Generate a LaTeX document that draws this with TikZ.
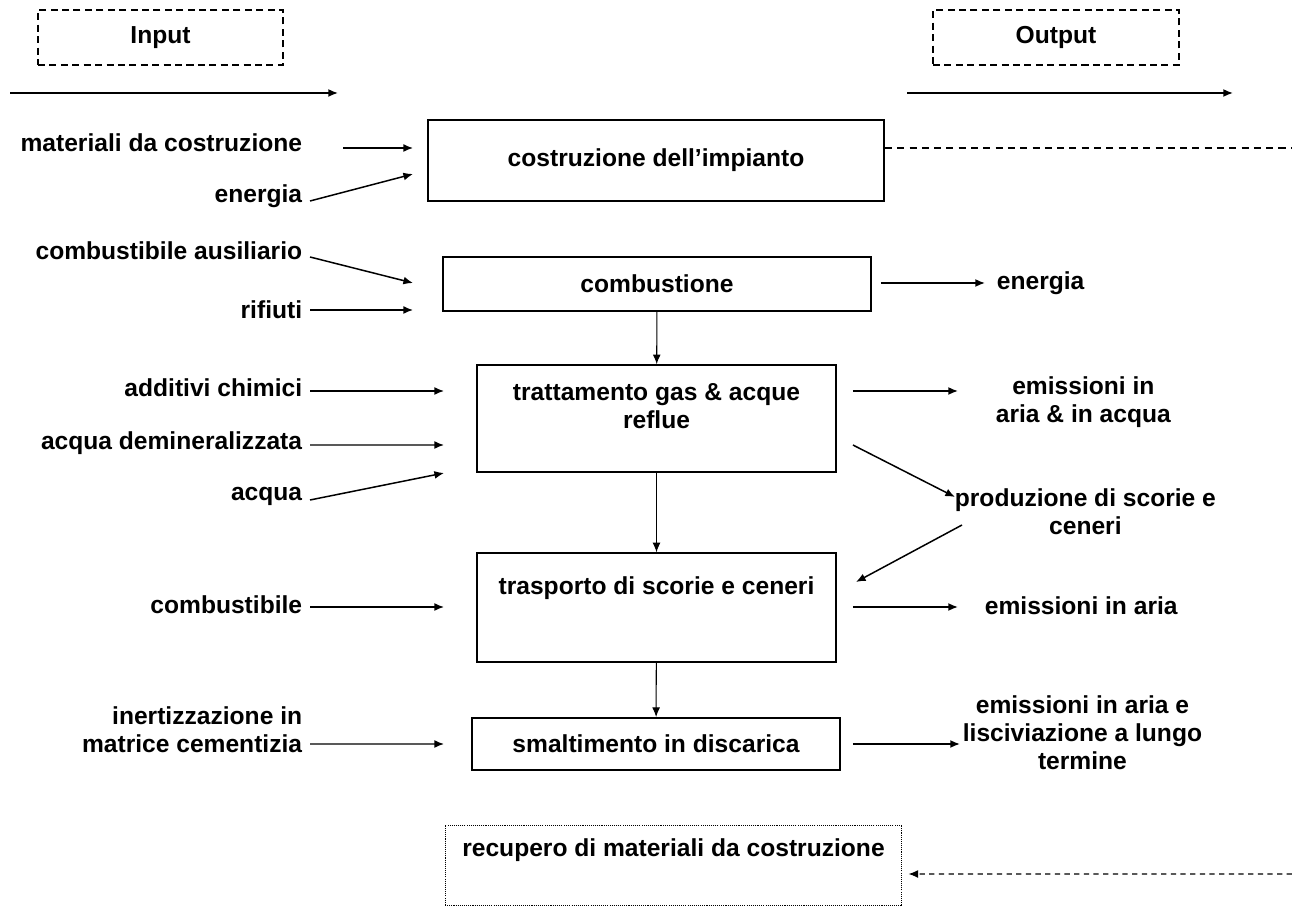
\documentclass[tikz,border=0pt]{standalone}
\usepackage{fontspec}
\setmainfont{Liberation Sans}
\usepackage{tikz}
\usetikzlibrary{arrows.meta}

\newcommand{\labfont}{\fontsize{14}{16}\selectfont\bfseries}
\tikzset{
  proc/.style={draw, rectangle, line width=1.1pt, inner sep=0pt, font=\labfont},
  lab/.style={inner sep=2pt, font=\labfont},
  flow/.style={->, >={Latex[length=5.5pt,width=4.5pt]}, line width=0.85pt},
}

\begin{document}
\begin{tikzpicture}[x=0.02cm, y=-0.02cm]
	\useasboundingbox (0,0) rectangle (1292,908);
	% titoli
	\node[proc, line width=0.8pt, dash pattern=on 4pt off 2.5pt, minimum width=4.9cm, minimum height=1.1cm] (IN) at (160.5,37.5) {Input};
	\node[proc, line width=0.8pt, dash pattern=on 4pt off 2.5pt, minimum width=4.92cm, minimum height=1.1cm] (OUT) at (1056,37.5) {Output};
	\coordinate (IN1) at (10,93);
	\coordinate (IN2) at (338,93);
	\coordinate (OUT1) at (907,93);
	\coordinate (OUT2) at (1233,93);
	\draw[flow] (IN1) -- (IN2);
	\draw[flow] (OUT1) -- (OUT2);

	% fasi
	\node[proc, minimum width=9.12cm, minimum height=1.62cm] (IMP) at (656,160.5)
	{costruzione dell’impianto};
	\node[proc, minimum width=8.56cm, minimum height=1.08cm] (COMB) at (657,284)
	{combustione};
	\node[proc, minimum width=7.18cm, text height=36.3pt, text depth=24.4pt, align=center] (TRAT) at (656.5,418.5)
	{trattamento gas \& acque\\reflue};
	\node[proc, minimum width=7.18cm, text height=23.2pt, text depth=38.5pt] (TRAS) at (656.5,607.5)
	{trasporto di scorie e ceneri};
	\node[proc, minimum width=7.36cm, minimum height=1.04cm] (DISC) at (656,744)
	{smaltimento in discarica};
	\node[proc, line width=0.6pt, dash pattern=on 0.6pt off 0.6pt, minimum width=9.14cm, text height=17.6pt, text depth=28.3pt] (REC) at (673.5,865.5)
	{recupero di materiali da costruzione};

	% input
	\node[lab, anchor=east] (MAT) at (306,143) {materiali da costruzione};
	\node[lab, anchor=east] (ENI) at (306,196) {energia};
	\node[lab, anchor=east] (AUS) at (306,251) {combustibile ausiliario};
	\node[lab, anchor=east] (RIF) at (306,310) {rifiuti};
	\node[lab, anchor=east] (ADD) at (306,388) {additivi chimici};
	\node[lab, anchor=east] (DEM) at (306,443) {acqua demineralizzata};
	\node[lab, anchor=east] (ACQ) at (306,496) {acqua};
	\node[lab, anchor=east] (CMB) at (306,605) {combustibile};
	\node[lab, anchor=east, align=right] (INE) at (306,729.5) {inertizzazione in\\matrice cementizia};

	% output
	\node[lab, anchor=west] (ENO) at (993,283) {energia};
	\node[lab, anchor=west, align=center] (EAA) at (992,402) {emissioni in\\aria \& in acqua};
	\node[lab, anchor=west, align=center] (PROD) at (951,512) {produzione di scorie e\\ceneri};
	\node[lab, anchor=west] (EA) at (981,606) {emissioni in aria};
	\node[lab, anchor=west, align=center] (EAL) at (959,733) {emissioni in aria e\\lisciviazione a lungo\\termine};

	\draw[flow] ([shift={(37,5)}]MAT.east) -- ([shift={(-14,-12.5)}]IMP.west);
	\draw[flow] ([shift={(4,5)}]ENI.east) -- ([shift={(-14,13.5)}]IMP.west);
	\draw[flow] ([shift={(4,6)}]AUS.east) -- ([shift={(-29,-1)}]COMB.west);
	\draw[flow] ([shift={(4,0)}]RIF.east) -- ([shift={(-29,26)}]COMB.west);
	\draw[flow] ([shift={(4,3)}]ADD.east) -- ([shift={(-32,-27.5)}]TRAT.west);
	\draw[flow] ([shift={(4,2)}]DEM.east) -- ([shift={(-32,26.5)}]TRAT.west);
	\draw[flow] ([shift={(4,4)}]ACQ.east) -- ([shift={(-32,54.5)}]TRAT.west);
	\draw[flow] ([shift={(4,2)}]CMB.east) -- ([shift={(-32,-0.5)}]TRAS.west);
	\draw[flow] ([shift={(4,14.5)}]INE.east) -- ([shift={(-27,0)}]DISC.west);

	\draw[flow, line width=0.6pt] (COMB) -- (TRAT);
	\draw[flow, line width=0.6pt] (TRAT) -- (TRAS);
	\draw[flow, line width=0.6pt] (TRAS) -- (DISC);

	\draw[flow] ([shift={(9,-1)}]COMB.east) -- ([shift={(-8,0)}]ENO.west);
	\draw[flow] ([shift={(16,-27.5)}]TRAT.east) -- ([shift={(-34,-11)}]EAA.west);
	\draw[flow] ([shift={(16,26.5)}]TRAT.east) -- ([shift={(4,-15)}]PROD.west);
	\draw[flow] ([shift={(11,13)}]PROD.west) -- ([shift={(19,-25.5)}]TRAS.east);
	\draw[flow] ([shift={(16,-0.5)}]TRAS.east) -- ([shift={(-23,1)}]EA.west);
	\draw[flow] ([shift={(12,0)}]DISC.east) -- ([shift={(1,11)}]EAL.west);

	\coordinate (DR) at (1292,148);
	\coordinate (DL) at (1292,874);
	\draw[line width=0.8pt, dash pattern=on 4pt off 3pt] ([shift={(0,-12.5)}]IMP.east) -- (DR);
	\draw[flow, line width=0.6pt, dash pattern=on 3pt off 2.5pt] (DL) -- ([shift={(6,8.5)}]REC.east);
\end{tikzpicture}
\end{document}
